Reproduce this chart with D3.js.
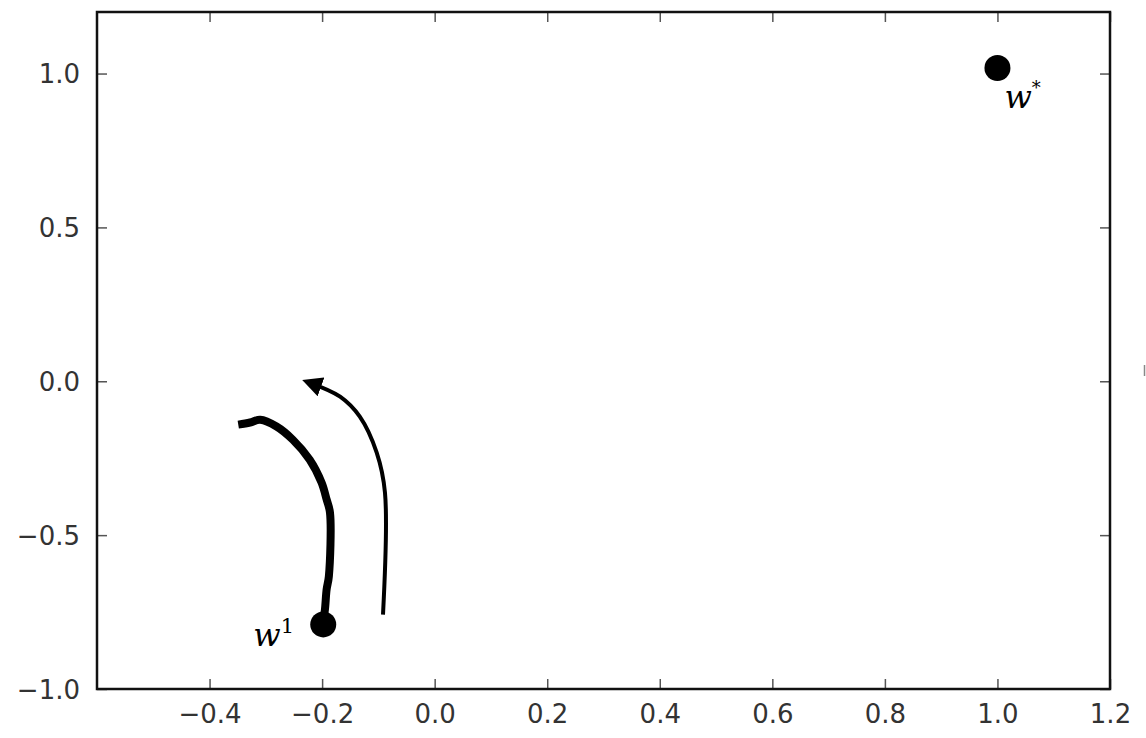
<!DOCTYPE html>
<html>
<head>
<meta charset="utf-8">
<script src="https://cdn.jsdelivr.net/npm/d3@7"></script>
<style>
  body { margin: 0; background: #fff; }
  .tick text { font-family: "DejaVu Sans", sans-serif; font-size: 26px; fill: #333; }
  .lbl { font-family: "DejaVu Serif", "Liberation Serif", serif; font-style: italic; fill: #000; }
</style>
</head>
<body>
<svg width="1146" height="738"></svg>
<script>
// tick values
var xTicks = [-0.4, -0.2, 0.0, 0.2, 0.4, 0.6, 0.8, 1.0, 1.2];
var yTicks = [-1.0, -0.5, 0.0, 0.5, 1.0];

// trajectory from w1
var pathX = [-0.198, -0.195, -0.192, -0.188, -0.186, -0.192, -0.201, -0.222, -0.252, -0.281, -0.310, -0.328, -0.349];
var pathY = [-0.78, -0.742, -0.677, -0.634, -0.427, -0.384, -0.329, -0.255, -0.190, -0.147, -0.125, -0.134, -0.141];

// curved arrow next to it
var arrowX = [-0.0918, -0.0883, -0.103, -0.133, -0.168, -0.222];
var arrowY = [-0.758, -0.362, -0.232, -0.115, -0.050, -0.005];

// the two marked points
var pointNames = ["w1", "wstar"];
var pointX = [-0.198, 1.0];
var pointY = [-0.79, 1.018];

var svg = d3.select("svg"),
    margin = {left: 97, top: 12, right: 36, bottom: 49},
    width = +svg.attr("width") - margin.left - margin.right,
    height = +svg.attr("height") - margin.top - margin.bottom;

var x = d3.scaleLinear().domain([-0.6, 1.2]).range([0, width]);
var y = d3.scaleLinear().domain([-1.0, 1.2]).range([height, 0]);

var g = svg.append("g").attr("transform", "translate(" + margin.left + "," + margin.top + ")");

var fmt = d3.format(".1f");
var minus = function(v) { return fmt(v).replace("-", "\u2212"); };

// bottom axis with labels, ticks pointing inward
var xAxis = g.append("g")
  .attr("transform", "translate(0," + height + ")")
  .call(d3.axisBottom(x).tickValues(xTicks).tickSize(-10).tickPadding(16).tickFormat(minus));
xAxis.select(".domain").remove();

var yAxis = g.append("g")
  .call(d3.axisLeft(y).tickValues(yTicks).tickSize(-10).tickPadding(17).tickFormat(minus));
yAxis.select(".domain").remove();
yAxis.selectAll("text").attr("dy", "0.36em");

// top and right ticks without labels
var xTop = g.append("g").call(d3.axisTop(x).tickValues(xTicks).tickSize(-10).tickFormat(""));
xTop.select(".domain").remove();
var yRight = g.append("g").attr("transform", "translate(" + width + ",0)")
  .call(d3.axisRight(y).tickValues(yTicks).tickSize(-10).tickFormat(""));
yRight.select(".domain").remove();

svg.selectAll(".tick line").attr("stroke", "#555").attr("stroke-width", 1.5);

// frame
g.append("rect")
  .attr("width", width).attr("height", height)
  .attr("fill", "none").attr("stroke", "#111").attr("stroke-width", 2.5);

// arrowhead marker
svg.append("defs").append("marker")
  .attr("id", "head")
  .attr("viewBox", "0 -5 10 10")
  .attr("refX", 6)
  .attr("refY", 0)
  .attr("markerWidth", 5)
  .attr("markerHeight", 5)
  .attr("orient", "auto")
  .attr("markerUnits", "strokeWidth")
  .append("path")
  .attr("d", "M0,-5L10,0L0,5Z")
  .attr("fill", "#000");

var line = d3.line()
  .x(function(d) { return x(d[0]); })
  .y(function(d) { return y(d[1]); })
  .curve(d3.curveCatmullRom);

// trajectory
g.append("path")
  .datum(d3.zip(pathX, pathY))
  .attr("d", line)
  .attr("fill", "none")
  .attr("stroke", "#000")
  .attr("stroke-width", 8)
  .attr("stroke-linejoin", "round");

// arrow
g.append("path")
  .datum(d3.zip(arrowX, arrowY))
  .attr("d", line)
  .attr("fill", "none")
  .attr("stroke", "#000")
  .attr("stroke-width", 4)
  .attr("marker-end", "url(#head)");

// points
g.selectAll("circle.pt")
  .data(d3.zip(pointX, pointY))
  .enter().append("circle")
  .attr("class", "pt")
  .attr("cx", function(d) { return x(d[0]); })
  .attr("cy", function(d) { return y(d[1]); })
  .attr("r", 13)
  .attr("fill", "#000");

// labels
var l1 = g.append("text").attr("class", "lbl")
  .attr("x", x(pointX[0]) - 70).attr("y", y(pointY[0]) + 22)
  .style("font-size", "32px");
l1.append("tspan").text("w");
l1.append("tspan").attr("dy", -13).style("font-size", "21px").style("font-style", "normal").text("1");

var l2 = g.append("text").attr("class", "lbl")
  .attr("x", x(pointX[1]) + 7).attr("y", y(pointY[1]) + 40)
  .style("font-size", "32px");
l2.append("tspan").text("w");
l2.append("tspan").attr("dy", -14).style("font-size", "18px").style("font-style", "normal").text("*");

// small stray mark at the right edge of the picture
svg.append("line")
  .attr("x1", 1144.5).attr("x2", 1144.5)
  .attr("y1", 365).attr("y2", 376)
  .attr("stroke", "#888").attr("stroke-width", 1.5);
</script>
</body>
</html>
